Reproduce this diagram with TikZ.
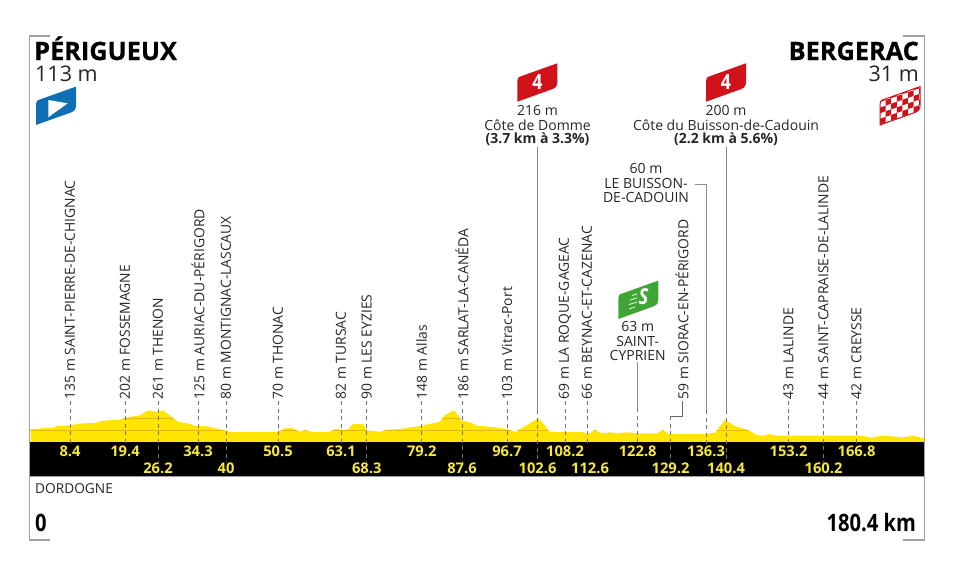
\documentclass[tikz,border=0pt]{standalone}
\usepackage{fontspec}
\setmainfont{Open Sans}
\newfontfamily\condfont[FakeStretch=0.84]{Open Sans}
\newfontfamily\heavyfont[FakeBold=0.6]{Open Sans Bold}
\usepackage{tikz}
\definecolor{roadyellow}{HTML}{FFE500}
\definecolor{kmyellow}{HTML}{F7E83C}
\definecolor{contour}{HTML}{E8B80A}
\definecolor{framegray}{HTML}{A0A0A0}
\definecolor{linegray}{HTML}{8C8C8C}
\definecolor{climbred}{HTML}{D0121B}
\definecolor{sprintgreen}{HTML}{3FA535}
\definecolor{startblue}{HTML}{0F6FB5}
\tikzstyle{frame} = [line width=1.3pt,draw=framegray]
\tikzstyle{stage} = [rotate=90,anchor=west,inner sep=1.5pt,font=\fontsize{13.9}{13.9}\selectfont,text=black!85]
\tikzstyle{kmup} = [inner sep=1pt,font=\bfseries\fontsize{14.7}{14.7}\selectfont,text=kmyellow]
\tikzstyle{tick} = [line width=0.8pt,draw=black!55,dash pattern=on 4pt off 3.5pt]
\tikzstyle{stem} = [line width=1pt,draw=linegray]
\tikzstyle{place} = [align=center,inner sep=1pt,font=\fontsize{14}{14.5}\selectfont,text=black!85]
\tikzstyle{city} = [inner sep=0pt,font=\heavyfont\fontsize{25.3}{25.3}\selectfont]
\tikzstyle{alt} = [inner sep=0pt,font=\fontsize{21.5}{21.5}\selectfont,text=black!85]
\tikzstyle{total} = [inner sep=0pt,font=\condfont\bfseries\fontsize{24}{24}\selectfont]
\newcommand{\flagpath}{(0,0) -- (0,-20.7) .. controls (0,-23.7) and (0.7,-24.4) .. (4.4,-25.7) -- (40,-38.4) -- (40,-19.7) .. controls (40,-16.2) and (38.7,-14.2) .. (35.4,-12.7) -- cycle}
\newcommand{\profilepath}{(30.5,442) -- (30.5,429) -- (53,427.7) -- (57,426) -- (70,425.3) -- (78,423.7) -- (95,423) -- (102,420.7) -- (120,419.7) -- (130,416.7) -- (140,415.3) -- (148,410.3) -- (157,412) -- (163,410.3) -- (170,415.7) -- (178,421.7) -- (187,423.3) -- (197,426) -- (207,426.3) -- (223,430) -- (230,432) -- (278,432) -- (285,428.3) -- (292,428) -- (300,431.7) -- (305,430) -- (312,432) -- (330,431.7) -- (335,429) -- (347,430) -- (353,424) -- (363,424) -- (367,430.7) -- (373,431) -- (380,431.7) -- (387,430) -- (400,429) -- (420,426) -- (440,421.7) -- (445,415) -- (454,410.3) -- (462,420.7) -- (470,422.3) -- (477,425.7) -- (490,426.7) -- (507,429) -- (515,432) -- (527,425) -- (538,418.3) -- (543,423.3) -- (550,432) -- (583,432) -- (588,434.3) -- (595,430) -- (602,433.3) -- (610,432.3) -- (617,433.3) -- (627,432.3) -- (638,433.3) -- (657,433.3) -- (663,430) -- (668,434) -- (705,434) -- (715,432.7) -- (725,420) -- (735,426) -- (748,430) -- (757,435) -- (763,435.7) -- (769,434) -- (777,435.7) -- (863,435.7) -- (870,437.7) -- (883,435.7) -- (903,437.3) -- (913,435.7) -- (924,438.3) -- (924,442) -- cycle}

\begin{document}
\begin{tikzpicture}[x=1pt,y=-1pt]
\useasboundingbox (0,0) rectangle (960,576);

% frame
\draw [frame] (50,36) -- (29.5,36) -- (29.5,540) -- (50,540);
\draw [frame] (903,36) -- (924.5,36) -- (924.5,540) -- (903,540);

% profile
\fill [roadyellow] \profilepath;
\begin{scope}
\clip \profilepath;
\draw [contour,line width=0.5pt] (30,430) -- (924,430);
\draw [contour,line width=0.5pt] (30,418) -- (924,418);
\end{scope}
\fill [black] (30,442) rectangle (924,476.5);
\draw [framegray,line width=0.8pt] (30,476.8) -- (924,476.8);

% start and finish
\node(start)[city,anchor=base west] at (34,60) {PÉRIGUEUX};
\node(startalt)[alt,anchor=base west] at (35,81) {113 m};
\node(finish)[city,anchor=base east] at (919,60) {BERGERAC};
\node(finishalt)[alt,anchor=base east] at (919,81) {31 m};

% flags
\fill [startblue,shift={(36,125)}] \flagpath;
\fill [white] (48.3,100) -- (67.7,103.3) -- (48.3,117.3) -- cycle;
\fill [climbred,shift={(517.3,101.7)}] \flagpath;
\fill [climbred,shift={(706,101.7)}] \flagpath;
\node(cat1)[inner sep=0pt,text=white,font=\condfont\bfseries\fontsize{21}{21}\selectfont] at (537.3,82.3) {4};
\node(cat2)[inner sep=0pt,text=white,font=\condfont\bfseries\fontsize{21}{21}\selectfont] at (726,82.3) {4};
\fill [sprintgreen,shift={(618.3,319)}] \flagpath;
\node(spr)[inner sep=0pt,text=white,font=\condfont\bfseries\itshape\fontsize{22}{22}\selectfont] at (643.5,297) {S};
\draw [white,line width=0.8pt] (632,295.5) -- (637,294) (630,300) -- (637,298) (629,304.5) -- (637,302) (629,309) -- (635,307);
\begin{scope}
\clip [shift={(880,125)}] \flagpath;
\fill [white] (880,85) rectangle (920,126);
\foreach \i in {0,...,7} \foreach \j in {0,...,5} {
  \pgfmathparse{int(mod(\i+\j,2))}
  \ifnum\pgfmathresult=0
    \fill [climbred] (880+5.6*\i,102-1.95*\i+5.6*\j-5.6) -- ++(5.6,-1.95) -- ++(0,5.6) -- ++(-5.6,1.95) -- cycle;
  \fi
}
\end{scope}
\draw [climbred,shift={(880,125)},line width=1pt] \flagpath;

% km marks, top row
\node(d84)[kmup] at (70,451.5) {8.4};
\node(d194)[kmup] at (125,451.5) {19.4};
\node(d343)[kmup] at (198,451.5) {34.3};
\node(d505)[kmup] at (278,451.5) {50.5};
\node(d631)[kmup] at (341,451.5) {63.1};
\node(d792)[kmup] at (421.7,451.5) {79.2};
\node(d967)[kmup] at (507,451.5) {96.7};
\node(d1082)[kmup] at (565,451.5) {108.2};
\node(d1228)[kmup] at (637.7,451.5) {122.8};
\node(d1363)[kmup] at (706,451.5) {136.3};
\node(d1532)[kmup] at (788.5,451.5) {153.2};
\node(d1668)[kmup] at (856.5,451.5) {166.8};
% km marks, bottom row
\node(d262)[kmup] at (158,468.5) {26.2};
\node(d40)[kmup] at (226,468.5) {40};
\node(d683)[kmup] at (366.7,468.5) {68.3};
\node(d876)[kmup] at (462,468.5) {87.6};
\node(d1026)[kmup] at (537.5,468.5) {102.6};
\node(d1126)[kmup] at (590,468.5) {112.6};
\node(d1292)[kmup] at (670.5,468.5) {129.2};
\node(d1404)[kmup] at (726,468.5) {140.4};
\node(d1602)[kmup] at (823.5,468.5) {160.2};

% places along the road
\node(l84)[stage] at (70,401) {135 m SAINT-PIERRE-DE-CHIGNAC};
\node(l194)[stage] at (125,401) {202 m FOSSEMAGNE};
\node(l262)[stage] at (158,401) {261 m THENON};
\node(l343)[stage] at (198,401) {125 m AURIAC-DU-PÉRIGORD};
\node(l40)[stage] at (226,401) {80 m MONTIGNAC-LASCAUX};
\node(l505)[stage] at (278,401) {70 m THONAC};
\node(l631)[stage] at (341,401) {82 m TURSAC};
\node(l683)[stage] at (366.7,401) {90 m LES EYZIES};
\node(l792)[stage] at (421.7,401) {148 m Allas};
\node(l876)[stage] at (462,401) {186 m SARLAT-LA-CANÉDA};
\node(l967)[stage] at (507,401) {103 m Vitrac-Port};
\node(l1082)[stage] at (565,401) {69 m LA ROQUE-GAGEAC};
\node(l1126)[stage] at (587,401) {66 m BEYNAC-ET-CAZENAC};
\node(l1292)[stage] at (682,401) {59 m SIORAC-EN-PÉRIGORD};
\node(l1532)[stage] at (788.5,401) {43 m LALINDE};
\node(l1602)[stage] at (823.5,401) {44 m SAINT-CAPRAISE-DE-LALINDE};
\node(l1668)[stage] at (856.5,401) {42 m CREYSSE};

% places with a block of text
\node(domme)[place] at (537.5,125.5) {216 m\\Côte de Domme\\[-1.5pt]\textbf{(3.7 km à 3.3\%)}};
\node(buisson)[place] at (726,125.5) {200 m\\Côte du Buisson-de-Cadouin\\[-1.5pt]\textbf{(2.2 km à 5.6\%)}};
\node(lebuisson)[place] at (646,183) {60 m\\LE BUISSON-\\DE-CADOUIN};
\node(cyprien)[place] at (637.7,341) {63 m\\SAINT-\\CYPRIEN};

\coordinate (p1026) at (537.5,410);
\coordinate (p1404) at (726,410);
\coordinate (p1228) at (637.7,408);
\coordinate (p1363) at (706,410);
\coordinate (q1363) at (706,184);
\coordinate (s1363) at (695,184);
\coordinate (q1292) at (682,416);
\coordinate (r1292) at (670.5,416);
\coordinate (b1126) at (587,443);

\draw [tick] (l84) -- (d84);
\draw [tick] (l194) -- (d194);
\draw [tick] (l262) -- (d262);
\draw [tick] (l343) -- (d343);
\draw [tick] (l40) -- (d40);
\draw [tick] (l505) -- (d505);
\draw [tick] (l631) -- (d631);
\draw [tick] (l683) -- (d683);
\draw [tick] (l792) -- (d792);
\draw [tick] (l876) -- (d876);
\draw [tick] (l967) -- (d967);
\draw [tick] (l1082) -- (d1082);
\draw [tick] (l1126) -- (b1126);
\draw [tick] (l1532) -- (d1532);
\draw [tick] (l1602) -- (d1602);
\draw [tick] (l1668) -- (d1668);

\draw [stem] (domme) -- (p1026);
\draw [tick] (p1026) -- (d1026);
\draw [stem] (buisson) -- (p1404);
\draw [tick] (p1404) -- (d1404);
\draw [stem] (cyprien) -- (p1228);
\draw [tick] (p1228) -- (d1228);
\draw [stem] (s1363) -- (q1363) -- (p1363);
\draw [tick] (p1363) -- (d1363);
\draw [line width=0.8pt,draw=black!60] (l1292) -- (q1292) -- (r1292);
\draw [tick] (r1292) -- (d1292);

% department and distance
\node(dept)[anchor=west,inner sep=0pt,font=\fontsize{13.7}{13.7}\selectfont,text=black!85] at (35,489) {DORDOGNE};
\node(km0)[total,anchor=west] at (35,523) {0};
\node(kmend)[total,anchor=east] at (916,523) {180.4 km};

\end{tikzpicture}
\end{document}
